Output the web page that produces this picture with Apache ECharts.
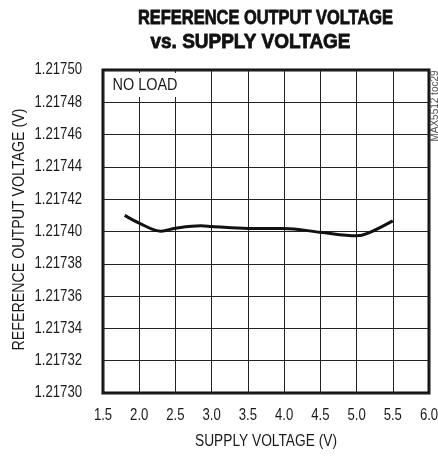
<!DOCTYPE html>
<html>
<head>
<meta charset="utf-8">
<script src="https://cdn.jsdelivr.net/npm/echarts@6/dist/echarts.min.js"></script>
<style>
  html, body { margin: 0; padding: 0; background: #fff; }
  #chart { width: 438px; height: 456px; }
</style>
</head>
<body>
<div id="chart"></div>
<script>
// Supply voltage (V) and reference output voltage (V), no load
const supplyVoltage = [1.8, 2.0, 2.3, 2.5, 2.85, 3.0, 3.5, 4.0, 4.5, 5.0, 5.15, 5.5];
const refVoltage = [1.217410, 1.2174052, 1.2174002, 1.2174020, 1.2174035, 1.2174031,
                    1.2174019, 1.2174019, 1.2173995, 1.2173973, 1.2173988, 1.2174066];

// Axis ticks
const xTickValues = [1.5, 2.0, 2.5, 3.0, 3.5, 4.0, 4.5, 5.0, 5.5, 6.0];
const yTickValues = [1.21730, 1.21732, 1.21734, 1.21736, 1.21738, 1.21740,
                     1.21742, 1.21744, 1.21746, 1.21748, 1.21750];

const sans = '"Liberation Sans", Arial, sans-serif';
const ink = '#1a1a1a';

// Condensed look: regular sans squeezed horizontally to a given width
const measureCtx = document.createElement('canvas').getContext('2d');
function squeezeTo(text, font, width) {
  measureCtx.font = font;
  return width / measureCtx.measureText(text).width;
}

const chart = echarts.init(document.getElementById('chart'), null, { renderer: 'canvas' });

chart.setOption({
  backgroundColor: '#fff',
  animation: false,
  grid: {
    left: 103, right: 9, top: 70, bottom: 63,
    show: true, borderColor: '#111', borderWidth: 3, backgroundColor: 'transparent'
  },
  xAxis: {
    type: 'value',
    min: xTickValues[0], max: xTickValues[xTickValues.length - 1],
    interval: xTickValues[1] - xTickValues[0],
    axisLine: { show: false },
    axisTick: { show: false },
    axisLabel: { show: false },
    splitLine: { show: true, lineStyle: { color: '#222', width: 1 } }
  },
  yAxis: {
    type: 'value',
    min: yTickValues[0], max: yTickValues[yTickValues.length - 1],
    interval: 0.00002,
    axisLine: { show: false },
    axisTick: { show: false },
    axisLabel: { show: false },
    splitLine: { show: true, lineStyle: { color: '#222', width: 1 } }
  },
  series: [{
    type: 'line',
    data: supplyVoltage.map((v, i) => [v, refVoltage[i]]),
    smooth: 0.35,
    showSymbol: false,
    lineStyle: { color: '#111', width: 3 },
    z: 5
  }]
});

// Text layer: tick labels placed through the axis scales, titles and notes
const labelFont = '16px ' + sans;
const tickSqueeze = 0.82;
const gridLeft = chart.convertToPixel({ gridIndex: 0 }, [xTickValues[0], yTickValues[0]]);
const gridRight = chart.convertToPixel({ gridIndex: 0 }, [xTickValues[xTickValues.length - 1], yTickValues[0]]);
const plotBottom = gridLeft[1];
const plotLeft = gridLeft[0];
const plotMidX = (gridLeft[0] + gridRight[0]) / 2;
const plotTop = chart.convertToPixel({ gridIndex: 0 }, [xTickValues[0], yTickValues[yTickValues.length - 1]])[1];
const plotMidY = (plotTop + plotBottom) / 2;

const texts = [];

xTickValues.forEach(v => {
  const p = chart.convertToPixel({ gridIndex: 0 }, [v, yTickValues[0]]);
  texts.push({
    type: 'text', x: p[0], y: plotBottom + 23, scaleX: tickSqueeze,
    style: { text: v.toFixed(1), font: labelFont, fill: ink, align: 'center', verticalAlign: 'middle' }
  });
});

yTickValues.forEach(v => {
  const p = chart.convertToPixel({ gridIndex: 0 }, [xTickValues[0], v]);
  texts.push({
    type: 'text', x: plotLeft - 21, y: p[1], scaleX: tickSqueeze,
    style: { text: v.toFixed(5), font: labelFont, fill: ink, align: 'right', verticalAlign: 'middle' }
  });
});

const xName = 'SUPPLY VOLTAGE (V)';
texts.push({
  type: 'text', x: plotMidX, y: plotBottom + 48.5, scaleX: squeezeTo(xName, labelFont, 142),
  style: { text: xName, font: labelFont, fill: ink, align: 'center', verticalAlign: 'middle' }
});

const yName = 'REFERENCE OUTPUT VOLTAGE (V)';
texts.push({
  type: 'text', x: 20, y: plotMidY - 2, rotation: Math.PI / 2,
  scaleX: squeezeTo(yName, labelFont, 242),
  style: { text: yName, font: labelFont, fill: ink, align: 'center', verticalAlign: 'middle' }
});

// Heavy condensed two-line title
const titleFont = 'bold 20px ' + sans;
const title1 = 'REFERENCE OUTPUT VOLTAGE';
const title2 = 'vs. SUPPLY VOLTAGE';
texts.push({
  type: 'text', x: 265.5, y: 18, scaleX: squeezeTo(title1, titleFont, 255),
  style: { text: title1, font: titleFont, fill: '#111', stroke: '#111', lineWidth: 0.8,
           align: 'center', verticalAlign: 'middle' }
});
texts.push({
  type: 'text', x: 250.5, y: 42.5, scaleX: squeezeTo(title2, titleFont, 200),
  style: { text: title2, font: titleFont, fill: '#111', stroke: '#111', lineWidth: 0.8,
           align: 'center', verticalAlign: 'middle' }
});

// "NO LOAD" note on a white patch in the top-left cell
const noteFont = '17px ' + sans;
texts.push({
  type: 'rect', z: 10,
  shape: { x: plotLeft + 2, y: plotTop + 3, width: 96, height: 24 },
  style: { fill: '#fff' }
});
texts.push({
  type: 'text', z: 11, x: 112.5, y: 85, scaleX: squeezeTo('NO LOAD', noteFont, 65),
  style: { text: 'NO LOAD', font: noteFont, fill: ink, align: 'left', verticalAlign: 'middle' }
});

texts.push({
  type: 'text', z: 11, x: 435, y: 106, rotation: Math.PI / 2,
  style: { text: 'MAX5512 toc29', font: '10px ' + sans, fill: '#555', align: 'center', verticalAlign: 'middle' }
});

chart.setOption({ graphic: texts });
</script>
</body>
</html>
